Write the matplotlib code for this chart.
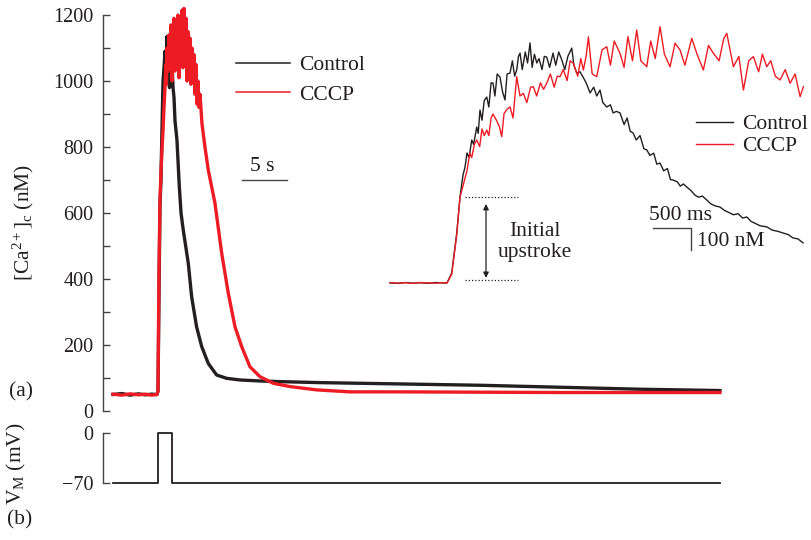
import matplotlib
matplotlib.use('Agg')
import matplotlib.pyplot as plt
from matplotlib.lines import Line2D

plt.rcParams['font.family'] = ['Liberation Serif', 'DejaVu Serif']
plt.rcParams['mathtext.fontset'] = 'custom'
plt.rcParams['mathtext.rm'] = 'Liberation Serif'
plt.rcParams['mathtext.it'] = 'Liberation Serif:italic'
plt.rcParams['mathtext.bf'] = 'Liberation Serif:bold'

INK = '#231f20'
RED = '#ed1c24'

# ---------------- data: main panel (time in s, [Ca2+]c in nM) ----------------
black_t = [0.0, 1.0, 1.9, 2.8, 3.6, 4.3, 4.89, 5.0, 5.11, 5.22, 5.33, 5.44, 5.56, 5.67, 5.78, 5.89,
           6.0, 6.06, 6.11, 6.17, 6.22, 6.28, 6.33, 6.44, 6.56, 6.67, 6.78, 6.89,
           7.11, 7.37, 7.56, 7.81, 8.37, 8.74, 9.29, 9.86,
           10.59, 11.52, 12.63, 14.11, 16.33, 18.56, 23.0, 31.89,
           40.78, 49.67, 58.56, 67.44]
black_ca = [50, 53, 48, 52, 49, 51, 50, 60, 350, 620, 700, 850, 1000, 1040, 1090, 1060,
            1135, 1040, 1120, 1000, 1125, 980, 1100, 1040, 1060, 980, 950, 880,
            820, 680, 600, 548, 447, 346, 255, 195,
            144, 109, 99, 94, 91, 89, 86, 82,
            78, 72, 66, 62]

red_t = [0.0, 1.0, 1.9, 2.8, 3.6, 4.3, 4.89, 5.0, 5.11, 5.22, 5.33, 5.44, 5.56, 5.67, 5.78, 5.89, 5.94,
         6.0, 6.11, 6.22, 6.33, 6.44, 6.56, 6.67, 6.78, 6.89,
         7.0, 7.11, 7.22, 7.33, 7.44, 7.56, 7.67, 7.78, 7.89,
         8.0, 8.11, 8.22, 8.33, 8.44, 8.56, 8.67, 8.78, 8.89,
         9.0, 9.11, 9.22, 9.33, 9.44, 9.56, 9.67, 9.89,
         10.22, 10.59, 11.33, 12.08, 12.81, 13.56, 14.3, 15.22,
         16.33, 17.81, 19.67, 22.63, 26.33, 31.89, 40.78, 49.67, 58.56, 67.44]
red_ca = [51, 48, 52, 49, 51, 48, 50, 60, 420, 640, 720, 790, 850, 920, 980, 1050, 990,
          1100, 1030, 1140, 1060, 1170, 1000, 1120, 1190, 1030,
          1150, 1080, 1200, 1010, 1180, 1090, 1215, 1040, 1220,
          1060, 1190, 1000, 1150, 1070, 1130, 990, 1100, 1040,
          1080, 960, 1050, 930, 1000, 920, 960, 870,
          800, 730, 630, 478, 357, 255, 195, 134,
          104, 84, 74, 64, 58, 58, 57, 56, 56, 56]

# membrane potential (s, mV)
vm_t = [0.0, 4.95, 4.95, 6.55, 6.55, 67.44]
vm_mv = [-70, -70, 0, 0, -70, -70]

# ---------------- data: inset (time in ms, [Ca2+]c in nM) ----------------
ins_black_t = [0, 100, 200, 300, 400, 500, 600, 700, 750, 812,
               878, 921, 960, 987, 1013, 1040, 1075, 1100, 1141, 1160,
               1184, 1210, 1240, 1273, 1300, 1330, 1355, 1380, 1410, 1447,
               1480, 1513, 1540, 1579, 1610, 1640, 1667, 1690, 1711, 1740,
               1780, 1810, 1842, 1870, 1900, 1931, 1960, 2000, 2030, 2062,
               2100, 2145, 2180, 2220, 2260, 2300, 2340, 2391, 2420, 2457,
               2500, 2540, 2580, 2632, 2680, 2720, 2763, 2800, 2852, 2900,
               2935, 2980, 3026, 3080, 3120, 3160, 3198, 3240, 3290, 3340,
               3378, 3420, 3470, 3510, 3553, 3600, 3650, 3690, 3724, 3780,
               3820, 3860, 3905, 3960, 4010, 4060, 4110, 4168, 4220, 4280,
               4342, 4400, 4460, 4520, 4580, 4640, 4694, 4750, 4810, 4870,
               4957, 5030, 5100, 5172, 5240, 5300, 5370, 5435]
ins_black_ca = [50, 48, 52, 49, 51, 48, 52, 50, 50, 95,
                277, 441, 540, 577, 641, 620, 700, 680, 759, 730,
                836, 790, 880, 895, 850, 960, 959, 900, 1000, 986,
                920, 882, 1000, 1004, 1060, 990, 1018, 1080, 1095, 1020,
                1100, 1050, 1141, 1030, 1090, 1050, 1070, 1020, 1080, 1077,
                1030, 1095, 1040, 1100, 1064, 1020, 1080, 1118, 1040, 1004,
                1010, 986, 960, 914, 940, 900, 927, 870, 850, 860,
                823, 830, 823, 770, 800, 740, 732, 700, 720, 660,
                655, 630, 640, 590, 595, 560, 570, 520, 518, 510,
                490, 500, 486, 470, 450, 440, 445, 427, 410, 400,
                395, 380, 370, 360, 365, 345, 350, 330, 320, 310,
                305, 290, 285, 277, 270, 255, 250, 232]

ins_red_t = [0, 100, 200, 300, 400, 500, 600, 700, 750, 812,
             878, 921, 960, 987, 1013, 1050, 1075, 1110, 1141, 1180,
             1210, 1240, 1273, 1300, 1330, 1355, 1400, 1440, 1470, 1500,
             1540, 1579, 1619, 1667, 1710, 1754, 1800, 1850, 1886, 1930,
             1980, 2020, 2062, 2110, 2160, 2200, 2237, 2280, 2330, 2370,
             2412, 2470, 2510, 2544, 2580, 2610, 2660, 2720, 2790, 2852,
             2900, 2950, 3026, 3080, 3130, 3190, 3246, 3300, 3378, 3430,
             3490, 3553, 3610, 3685, 3750, 3816, 3880, 3970, 4040, 4123,
             4190, 4255, 4330, 4390, 4431, 4518, 4590, 4650, 4720, 4781,
             4850, 4900, 4957, 5010, 5070, 5132, 5200, 5264, 5330, 5396,
             5439]
ins_red_ca = [52, 49, 51, 48, 52, 50, 49, 51, 50, 90,
              270, 441, 490, 527, 560, 640, 620, 680, 700, 670,
              750, 720, 745, 720, 800, 818, 790, 760, 715, 820,
              840, 850, 800, 988, 900, 912, 870, 940, 942, 900,
              960, 930, 958, 1000, 940, 990, 988, 1020, 970, 1060,
              1049, 990, 1070, 1018, 1080, 1169, 1000, 988, 1110, 1124,
              1040, 1150, 1094, 1030, 1170, 1060, 1200, 1060, 1033, 1150,
              1070, 1215, 1090, 1033, 1140, 1109, 1040, 1162, 1090, 1018,
              1130, 1094, 1060, 1160, 1185, 1033, 1080, 927, 1060, 1079,
              1010, 1090, 1033, 1060, 990, 973, 1020, 958, 1000, 897,
              942]

series_labels = ['Control', 'CCCP']
ca_ticks = [0, 200, 400, 600, 800, 1000, 1200]
ca_minor = [100, 300, 500, 700, 900, 1100]
vm_ticks = [-70, 0]

# scale bars / annotation values
main_bar_start, main_bar_len, main_bar_level = 14.33, 5.0, 700
ins_bar_x0, ins_bar_xlen = 3461, 500
ins_bar_y0, ins_bar_ylen = 300, 100
upstroke_lo, upstroke_hi = 65, 442

# ---------------- figure ----------------
W, H = 812, 540
fig = plt.figure(figsize=(W / 100, H / 100), dpi=100)


def fx(px):
    return px / W


def fy(py):
    return 1 - py / H


def box(x0, y0, x1, y1):
    return [fx(x0), fy(y1), fx(x1) - fx(x0), fy(y0) - fy(y1)]


XLIM = (-1.11, 68.56)
TICKFS = 14.5
TXTFS = 15.5

# main panel (a)
ax = fig.add_axes(box(103, 15, 730, 411))
ax.set_facecolor('none')
ax.plot(black_t, black_ca, color=INK, lw=2.4, clip_on=False)
ax.plot(red_t, red_ca, color=RED, lw=2.4, clip_on=False)
ax.set_xlim(*XLIM)
ax.set_ylim(0, 1200)
ax.set_yticks(ca_ticks)
ax.set_yticks(ca_minor, minor=True)
ax.tick_params(axis='y', which='both', direction='in', length=5, width=1.0,
               color='#444444', pad=7, labelsize=TICKFS, labelcolor=INK)
ax.xaxis.set_visible(False)
for s in ['top', 'right', 'bottom']:
    ax.spines[s].set_visible(False)
ax.spines['left'].set_color('#444444')
ax.spines['left'].set_linewidth(1.0)

# 5 s scale bar
ax.plot([main_bar_start, main_bar_start + main_bar_len], [main_bar_level, main_bar_level],
        color='#444444', lw=1.0)
ax.text(main_bar_start + main_bar_len / 2 - 0.3, main_bar_level + 42, '5 s',
        ha='center', va='center', fontsize=TXTFS, color=INK)

h_black = Line2D([], [], color=INK, lw=1.1)
h_red = Line2D([], [], color=RED, lw=1.1)
ax.legend([h_black, h_red], series_labels, loc='upper left',
          bbox_to_anchor=(fx(236), fy(55)), bbox_transform=fig.transFigure,
          frameon=False, fontsize=TXTFS, handlelength=2.5, handletextpad=0.45,
          labelspacing=0.45, borderpad=0, borderaxespad=0, labelcolor=INK)

# membrane potential panel (b)
ax2 = fig.add_axes(box(103, 433, 730, 483))
ax2.set_facecolor('none')
ax2.plot(vm_t, vm_mv, color=INK, lw=1.3, clip_on=False)
ax2.set_xlim(*XLIM)
ax2.set_ylim(-70, 0)
ax2.set_yticks(vm_ticks)
ax2.tick_params(axis='y', direction='in', length=5, width=1.0, color='#444444',
                pad=7, labelsize=TICKFS, labelcolor=INK)
ax2.xaxis.set_visible(False)
for s in ['top', 'right', 'bottom']:
    ax2.spines[s].set_visible(False)
ax2.spines['left'].set_color('#444444')
ax2.spines['left'].set_linewidth(1.0)

# inset
axi = fig.add_axes(box(385, 30, 810, 290))
axi.set_facecolor('none')
axi.plot(ins_black_t, ins_black_ca, color=INK, lw=1.0, clip_on=False)
axi.plot(ins_red_t, ins_red_ca, color=RED, lw=1.0, clip_on=False)
axi.set_xlim(-66, 5526)
axi.set_ylim(18, 1200)
axi.axis('off')

# upstroke marks
axi.plot([987, 1684], [upstroke_hi, upstroke_hi], color=INK, lw=0.9, ls=(0, (1, 1.6)))
axi.plot([987, 1684], [upstroke_lo, upstroke_lo], color=INK, lw=0.9, ls=(0, (1, 1.6)))
axi.annotate('', xy=(1263, upstroke_lo + 8), xytext=(1263, upstroke_hi - 33),
             arrowprops=dict(arrowstyle='<|-|>', color=INK, lw=0.9,
                             mutation_scale=8, shrinkA=0, shrinkB=0))
axi.text(1908, 236, 'Initial\nupstroke', ha='center', va='center',
         fontsize=TXTFS, color=INK, linespacing=1.1)

# inset scale bars
axi.plot([ins_bar_x0, ins_bar_x0 + ins_bar_xlen, ins_bar_x0 + ins_bar_xlen],
         [ins_bar_y0, ins_bar_y0, ins_bar_y0 - ins_bar_ylen], color='#444444', lw=1.0)
axi.text(3816, 355, '500 ms', ha='center', va='center', fontsize=TXTFS, color=INK)
axi.text(4040, 238, '100 nM', ha='left', va='center', fontsize=TXTFS, color=INK)

hi_black = Line2D([], [], color=INK, lw=1.0)
hi_red = Line2D([], [], color=RED, lw=1.0)
axi.legend([hi_black, hi_red], series_labels, loc='upper left',
           bbox_to_anchor=(fx(696), fy(114)), bbox_transform=fig.transFigure,
           frameon=False, fontsize=TXTFS, handlelength=1.7, handletextpad=0.42,
           labelspacing=0.1, borderpad=0, borderaxespad=0, labelcolor=INK)

# labels
fig.text(fx(23), fy(222), r'[Ca$^{2+}$]$_\mathrm{c}$ (nM)', rotation=90,
         ha='center', va='center', fontsize=TXTFS, color=INK)
fig.text(fx(16), fy(464), r'V$_\mathrm{M}$ (mV)', rotation=90,
         ha='center', va='center', fontsize=TXTFS, color=INK)
fig.text(fx(21), fy(392), '(a)', ha='center', va='center', fontsize=TXTFS, color=INK)
fig.text(fx(20), fy(520), '(b)', ha='center', va='center', fontsize=TXTFS, color=INK)

fig.savefig('out.png', dpi=100)
